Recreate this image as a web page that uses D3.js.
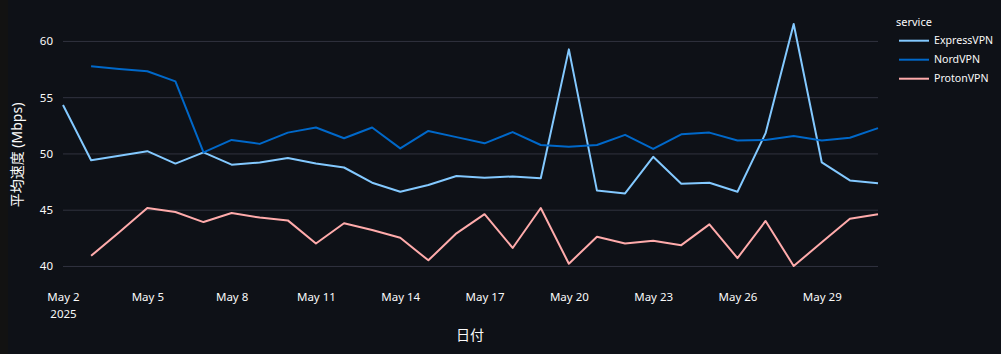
<!DOCTYPE html>
<html>
<head>
<meta charset="utf-8">
<script src="https://cdn.jsdelivr.net/npm/d3@7"></script>
<style>
  html, body { margin: 0; padding: 0; background: #0e1117; }
  svg { display: block; }
  text { font-family: "Noto Sans", "Noto Sans CJK JP", sans-serif; fill: #fafafa; }
</style>
</head>
<body>
<svg id="chart" width="1001" height="354"></svg>
<script>
// ---- data ----
const startDate = "2025-05-02";
const dates = d3.range(30).map(i => d3.utcDay.offset(new Date(startDate + "T00:00:00Z"), i));
const services = ["ExpressVPN", "NordVPN", "ProtonVPN"];
const colors = ["#83c9ff", "#0068c9", "#ffabab"];
const expressVPN = [54.3, 49.4, 49.8, 50.2, 49.1, 50.1, 49.0, 49.2, 49.6, 49.1,
                    48.75, 47.4, 46.6, 47.2, 48.0, 47.85, 47.95, 47.8, 59.25, 46.7,
                    46.45, 49.7, 47.3, 47.4, 46.6, 51.8, 61.5, 49.2, 47.6, 47.35];
const nordVPN = [null, 57.75, 57.5, 57.3, 56.4, 50.1, 51.2, 50.85, 51.85, 52.3,
                 51.35, 52.3, 50.45, 52.0, 51.45, 50.9, 51.9, 50.75, 50.6, 50.75,
                 51.65, 50.4, 51.7, 51.85, 51.15, 51.2, 51.55, 51.15, 51.4, 52.25];
const protonVPN = [null, 40.9, 43.0, 45.15, 44.8, 43.9, 44.7, 44.3, 44.05, 42.0,
                   43.8, 43.2, 42.5, 40.5, 42.9, 44.6, 41.6, 45.15, 40.2, 42.6,
                   42.0, 42.25, 41.85, 43.7, 40.7, 44.0, 40.0, 42.1, 44.2, 44.6];
const seriesValues = [expressVPN, nordVPN, protonVPN];
const yTicks = [40, 45, 50, 55, 60];
const xTickDates = ["2025-05-02","2025-05-05","2025-05-08","2025-05-11","2025-05-14",
                    "2025-05-17","2025-05-20","2025-05-23","2025-05-26","2025-05-29"];
const xTitle = "日付";
const yTitle = "平均速度 (Mbps)";
const legendTitle = "service";

// ---- layout ----
const W = 1001, H = 354;
const m = { left: 63, right: 123, top: 12, bottom: 76 };
const svg = d3.select("#chart");
svg.append("rect").attr("width", W).attr("height", H).attr("fill", "#0e1117");
svg.append("rect").attr("width", 8).attr("height", H).attr("fill", "#121212");

const x = d3.scaleUtc()
  .domain([dates[0], dates[dates.length - 1]])
  .range([m.left, W - m.right]);
const y = d3.scaleLinear()
  .domain([38.93, 62.57])
  .range([H - m.bottom, m.top]);

// grid
const grid = svg.append("g")
  .attr("transform", `translate(${m.left},0)`)
  .call(d3.axisLeft(y).tickValues(yTicks).tickSize(-(W - m.right - m.left)).tickFormat(""));
grid.select(".domain").remove();
grid.selectAll("line").attr("stroke", "#31333f").attr("stroke-width", 1);

// y tick labels
const yAxis = svg.append("g")
  .attr("transform", `translate(${m.left - 10},0)`)
  .call(d3.axisLeft(y).tickValues(yTicks).tickSize(0).tickFormat(d3.format("d")));
yAxis.select(".domain").remove();
yAxis.selectAll("text").attr("x", 0).attr("dy", "0.35em")
  .style("font-size", "11.5px").attr("fill", "#fafafa");

// x axis
const xTicks = xTickDates.map(s => new Date(s + "T00:00:00Z"));
const fmt = d3.utcFormat("%b %-d");
const xAxis = svg.append("g")
  .attr("transform", `translate(0,${H - m.bottom})`)
  .call(d3.axisBottom(x).tickValues(xTicks).tickSize(0).tickFormat(""));
xAxis.select(".domain").remove();
xAxis.selectAll(".tick").each(function(d, i) {
  const t = d3.select(this).append("text")
    .attr("text-anchor", "middle")
    .attr("y", 23)
    .style("font-size", "11.5px")
    .attr("fill", "#fafafa");
  t.append("tspan").attr("x", 0).text(fmt(d));
  if (i === 0) t.append("tspan").attr("x", 0).attr("dy", 16.5).text(d3.utcFormat("%Y")(d));
});

// axis titles
svg.append("text")
  .attr("x", (m.left + W - m.right) / 2 - 0.5)
  .attr("y", 340)
  .attr("text-anchor", "middle")
  .style("font-size", "14px")
  .text(xTitle);
svg.append("text")
  .attr("transform", `translate(22,${(m.top + H - m.bottom) / 2 + 10}) rotate(-90)`)
  .attr("text-anchor", "middle")
  .style("font-size", "14px")
  .text(yTitle);

// lines
const line = d3.line()
  .defined(d => d.v != null)
  .x(d => x(d.date))
  .y(d => y(d.v));
services.forEach((s, k) => {
  const pts = dates.map((date, i) => ({ date, v: seriesValues[k][i] }));
  svg.append("path")
    .datum(pts)
    .attr("fill", "none")
    .attr("stroke", colors[k])
    .attr("stroke-width", 2)
    .attr("stroke-linejoin", "round")
    .attr("d", line);
});

// legend
const lg = svg.append("g").attr("transform", "translate(896,0)");
lg.append("text").attr("x", 0).attr("y", 26).style("font-size", "11px").text(legendTitle);
services.forEach((s, k) => {
  const yy = 40.7 + k * 19;
  lg.append("line").attr("x1", 3).attr("x2", 33).attr("y1", yy).attr("y2", yy)
    .attr("stroke", colors[k]).attr("stroke-width", 2);
  lg.append("text").attr("x", 38).attr("y", yy).attr("dy", "0.35em")
    .style("font-size", "10.6px").text(s);
});
</script>
</body>
</html>
